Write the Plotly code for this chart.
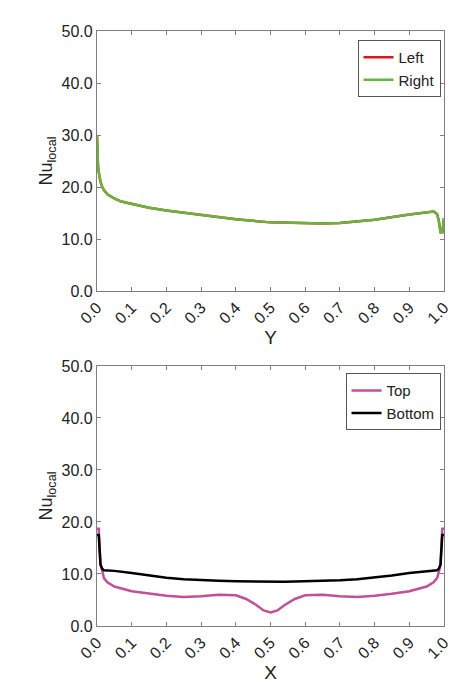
import plotly.graph_objects as go
from plotly.subplots import make_subplots

# top panel: local Nusselt along Y (left / right walls)
y_pos = [0.0, 0.003, 0.006, 0.01, 0.015, 0.02, 0.03, 0.05, 0.07, 0.1, 0.15, 0.2, 0.3, 0.4, 0.5, 0.6, 0.65,
         0.7, 0.8, 0.9, 0.95, 0.97, 0.98, 0.985, 0.99, 0.995, 1.0]
nu_left = [30.0, 24.0, 22.5, 21.0, 20.0, 19.4, 18.6, 17.8, 17.2, 16.7, 16.0, 15.5, 14.6, 13.8, 13.2, 13.0, 13.0,
           13.1, 13.7, 14.7, 15.2, 15.3, 14.8, 13.5, 11.3, 11.3, 14.0]
nu_right = list(nu_left)

# bottom panel: local Nusselt along X (top / bottom walls)
x_pos = [0.0, 0.005, 0.01, 0.015, 0.02, 0.03, 0.05, 0.1, 0.15, 0.2, 0.25, 0.3, 0.35, 0.4, 0.43, 0.46, 0.48, 0.5,
         0.52, 0.54, 0.57, 0.6, 0.65, 0.7, 0.75, 0.8, 0.85, 0.9, 0.95, 0.97, 0.98, 0.985, 0.99, 0.995, 1.0]
nu_top = [18.7, 18.7, 12.0, 10.3, 9.2, 8.4, 7.6, 6.7, 6.2, 5.8, 5.6, 5.7, 6.0, 5.9, 5.2, 4.0, 3.0, 2.6,
          3.0, 4.0, 5.2, 5.9, 6.0, 5.7, 5.6, 5.8, 6.2, 6.7, 7.6, 8.4, 9.2, 10.3, 12.0, 18.7, 18.7]
nu_bottom = [17.5, 17.5, 11.8, 11.0, 10.7, 10.7, 10.6, 10.2, 9.7, 9.3, 9.0, 8.8, 8.7, 8.6, 8.55, 8.5, 8.5, 8.5,
             8.5, 8.5, 8.55, 8.6, 8.7, 8.8, 9.0, 9.3, 9.7, 10.2, 10.6, 10.7, 10.7, 11.0, 11.8, 17.5, 17.5]

y_ticks = [0.0, 10.0, 20.0, 30.0, 40.0, 50.0]
x_ticks = [0.0, 0.1, 0.2, 0.3, 0.4, 0.5, 0.6, 0.7, 0.8, 0.9, 1.0]

fig = make_subplots(rows=2, cols=1, vertical_spacing=0.126)

fig.add_trace(go.Scatter(x=y_pos, y=nu_left, mode="lines", name="Left",
                         line=dict(color="#d7191c", width=2.5), legend="legend"), row=1, col=1)
fig.add_trace(go.Scatter(x=y_pos, y=nu_right, mode="lines", name="Right",
                         line=dict(color="#6ab43e", width=2.5), legend="legend"), row=1, col=1)
fig.add_trace(go.Scatter(x=x_pos, y=nu_top, mode="lines", name="Top",
                         line=dict(color="#c0509a", width=2.5), legend="legend2"), row=2, col=1)
fig.add_trace(go.Scatter(x=x_pos, y=nu_bottom, mode="lines", name="Bottom",
                         line=dict(color="black", width=2.5), legend="legend2"), row=2, col=1)

axis_style = dict(showline=True, linecolor="#7f7f7f", linewidth=1.2, mirror="ticks", ticks="inside",
                  ticklen=4, tickcolor="#7f7f7f", showgrid=False, zeroline=False,
                  tickfont=dict(size=16, color="#222"))
for r, lab in [(1, "Y"), (2, "X")]:
    fig.update_xaxes(range=[0, 1], tickvals=x_ticks, ticktext=[f"{v:.1f}" for v in x_ticks], tickangle=-45,
                     title=dict(text=lab, font=dict(size=19), standoff=2), row=r, col=1, **axis_style)
    fig.update_yaxes(range=[0, 50], tickvals=y_ticks, ticktext=[f"{v:.1f}" for v in y_ticks],
                     title=dict(text="Nu<sub>local</sub>", font=dict(size=18), standoff=4), row=r, col=1, **axis_style)

leg = dict(xanchor="right", yanchor="top", bgcolor="white", bordercolor="#555", borderwidth=1,
           font=dict(size=15), tracegroupgap=0, itemwidth=30)
fig.update_layout(
    width=472, height=686, template="simple_white", plot_bgcolor="white",
    font=dict(family="Liberation Sans, Arial", color="#222"),
    margin=dict(l=89, r=36, t=23, b=68),
    legend=dict(x=0.99, y=0.985, **leg),
    legend2=dict(x=0.99, y=0.425, **leg),
)

fig.write_html("out.html")
